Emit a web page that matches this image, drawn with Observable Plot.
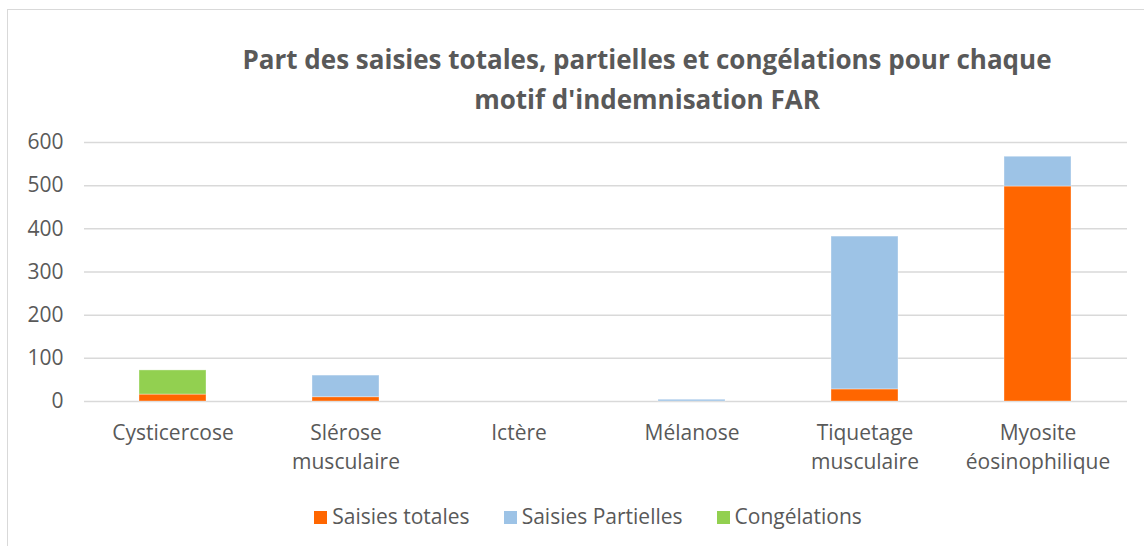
<!DOCTYPE html>
<html>
<head>
<meta charset="utf-8">
<script src="https://cdn.jsdelivr.net/npm/d3@7"></script>
<script src="https://cdn.jsdelivr.net/npm/@observablehq/plot@0.6"></script>
<style>
  html, body { margin: 0; padding: 0; background: #fff; }
  body { width: 1144px; height: 546px; overflow: hidden; position: relative; font-family: "Open Sans", sans-serif; }
  #frame { position: absolute; left: 7px; top: 9px; width: 1200px; height: 600px; border-left: 1.5px solid #d9d9d9; border-top: 1.5px solid #d9d9d9; }
  #title { position: absolute; left: 0; top: 39px; width: 1294px; text-align: center; font-size: 26px; font-weight: 700; color: #595959; line-height: 40px; white-space: nowrap; }
  #chart { position: absolute; left: 0; top: 118px; }
  #legend { position: absolute; left: 0; top: 502px; width: 1176px; text-align: center; font-size: 21px; color: #595959; white-space: nowrap; }
  #legend span.item { display: inline-block; margin: 0 17px; }
  #legend span.sw { display: inline-block; width: 13px; height: 13px; margin-right: 5px; vertical-align: 0px; }
</style>
</head>
<body>
<div id="frame"></div>
<div id="title">Part des saisies totales, partielles et congélations pour chaque<br>motif d'indemnisation FAR</div>
<div id="chart"></div>
<div id="legend"></div>
<script>
const categories = ["Cysticercose", "Slérose musculaire", "Ictère", "Mélanose", "Tiquetage musculaire", "Myosite éosinophilique"];
const categoryLabels = ["Cysticercose", "Slérose\nmusculaire", "Ictère", "Mélanose", "Tiquetage\nmusculaire", "Myosite\néosinophilique"];
const series = ["Saisies totales", "Saisies Partielles", "Congélations"];
const colors = ["#FF6600", "#9DC3E6", "#92D050"];
const saisiesTotales = [16, 10, 0, 0, 28, 498];
const saisiesPartielles = [0, 50, 0, 4, 354, 69];
const congelations = [56, 0, 0, 0, 0, 0];
const yTicks = [0, 100, 200, 300, 400, 500, 600];

const values = [saisiesTotales, saisiesPartielles, congelations];
const data = [];
series.forEach((s, i) => categories.forEach((c, j) => data.push({category: c, series: s, value: values[i][j]})));

const labelOf = new Map(categories.map((c, i) => [c, categoryLabels[i]]));

const chart = Plot.plot({
  width: 1144,
  height: 380,
  marginLeft: 84,
  marginRight: 17,
  marginTop: 24,
  marginBottom: 97,
  style: {fontFamily: "Open Sans, sans-serif", fontSize: "21px", color: "#595959", background: "transparent", overflow: "visible"},
  x: {domain: categories, paddingInner: 0.61, paddingOuter: 0.305, label: null},
  y: {domain: [0, 600], ticks: yTicks, label: null},
  color: {domain: series, range: colors},
  marks: [
    Plot.ruleY(yTicks, {stroke: "#d9d9d9", strokeWidth: 1.5}),
    Plot.barY(data, {x: "category", y: "value", fill: "series", order: series, stroke: "#ffffff", strokeOpacity: 0.35, strokeWidth: 1}),
    Plot.axisX({tickSize: 0, tickPadding: 18, lineHeight: 1.38, fontSize: 21, fill: "#595959", tickFormat: d => labelOf.get(d), label: null}),
    Plot.axisY({ticks: yTicks, tickSize: 0, tickPadding: 21, fontSize: 21, fill: "#595959", label: null})
  ]
});
document.getElementById("chart").appendChild(chart);

const legend = document.getElementById("legend");
series.forEach((s, i) => {
  const item = document.createElement("span");
  item.className = "item";
  const sw = document.createElement("span");
  sw.className = "sw";
  sw.style.background = colors[i];
  item.appendChild(sw);
  item.appendChild(document.createTextNode(s));
  legend.appendChild(item);
});
</script>
</body>
</html>
